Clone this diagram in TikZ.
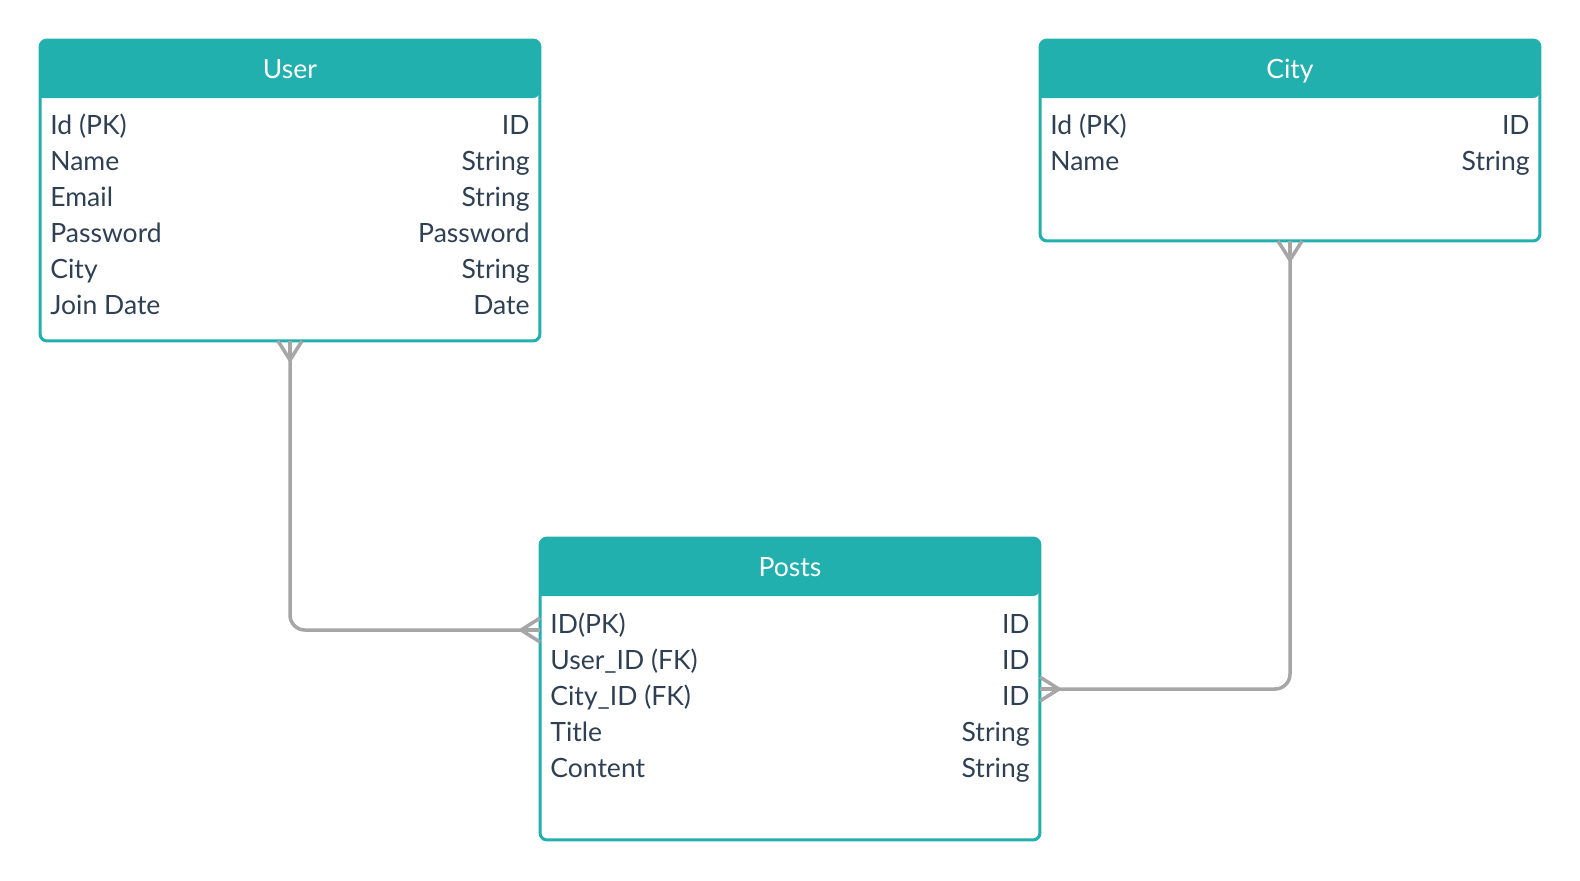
\documentclass[tikz,border=0pt]{standalone}
\usepackage{fontspec}
\setmainfont{Lato}
\usetikzlibrary{calc}
\definecolor{teal}{HTML}{22B0AF}
\definecolor{ink}{HTML}{2F4053}
\definecolor{linkgray}{HTML}{A6A6A6}

\begin{document}
\begin{tikzpicture}[
  x=0.02cm,
  y=-0.02cm,
  tablebox/.style={
    draw=teal,
    fill=white,
    rounded corners=0.14cm,
    line width=0.06cm,
    minimum width=10cm,
    outer sep=0pt,
    inner sep=0pt
  },
  headtext/.style={
    anchor=base,
    text=white,
    inner sep=0pt,
    font=\fontsize{15.1}{18}\selectfont
  },
  fieldtext/.style={
    anchor=base west,
    text=ink,
    inner sep=0pt,
    font=\fontsize{15.1}{18}\selectfont
  },
  typetext/.style={
    anchor=base east,
    text=ink,
    inner sep=0pt,
    font=\fontsize{15.1}{18}\selectfont
  },
  link/.style={
    draw=linkgray,
    line width=0.07cm
  }
]
\useasboundingbox (0,0) rectangle (1580,880);

% tables
\node[tablebox, minimum height=6.02cm] (user) at (290,190.5) {};
\node[tablebox, minimum height=4.02cm] (city) at (1290,140.5) {};
\node[tablebox, minimum height=6.04cm] (posts) at (790,689) {};

% header bars
\foreach \tab in {user,city,posts}{
  \fill[teal] ($(\tab.north west)+(0,58)$) [rounded corners=0.14cm]
    -- (\tab.north west) -- (\tab.north east)
    -- ($(\tab.north east)+(0,58)$) [sharp corners] -- cycle;
}
\node[headtext] (userhead) at ($(user.north)+(0,38.5)$) {User};
\node[headtext] (cityhead) at ($(city.north)+(0,38.5)$) {City};
\node[headtext] (postshead) at ($(posts.north)+(0,38.5)$) {Posts};

% fields
\foreach \name/\type [count=\i] in {Id (PK)/ID, Name/String, Email/String,
    Password/Password, City/String, Join Date/Date}{
  \node[fieldtext] (userf\i) at ($(user.north west)+(10,58+36*\i)$) {\name};
  \node[typetext] (usert\i) at ($(user.north east)+(-10,58+36*\i)$) {\type};
}
\foreach \name/\type [count=\i] in {Id (PK)/ID, Name/String}{
  \node[fieldtext] (cityf\i) at ($(city.north west)+(10,58+36*\i)$) {\name};
  \node[typetext] (cityt\i) at ($(city.north east)+(-10,58+36*\i)$) {\type};
}
\foreach \name/\type [count=\i] in {ID(PK)/ID, User\_ID (FK)/ID, City\_ID (FK)/ID,
    Title/String, Content/String}{
  \node[fieldtext] (postsf\i) at ($(posts.north west)+(10,59+36*\i)$) {\name};
  \node[typetext] (postst\i) at ($(posts.north east)+(-10,59+36*\i)$) {\type};
}

% relations
\coordinate (postsin) at ($(posts.north west)+(0,92)$);
\coordinate (postsout) at ($(posts.north east)+(0,151)$);

\draw[link, rounded corners=0.3cm] (user.south) |- (postsin);
\draw[link, rounded corners=0.3cm] (city.south) |- (postsout);

% crow's feet
\foreach \dx in {-12,0,12}{
  \draw[link] ($(user.south)+(0,19)$) -- ($(user.south)+(\dx,0)$);
  \draw[link] ($(city.south)+(0,19)$) -- ($(city.south)+(\dx,0)$);
  \draw[link] ($(postsin)+(-19,0)$) -- ($(postsin)+(0,\dx)$);
  \draw[link] ($(postsout)+(19,0)$) -- ($(postsout)+(0,\dx)$);
}

\end{tikzpicture}
\end{document}
